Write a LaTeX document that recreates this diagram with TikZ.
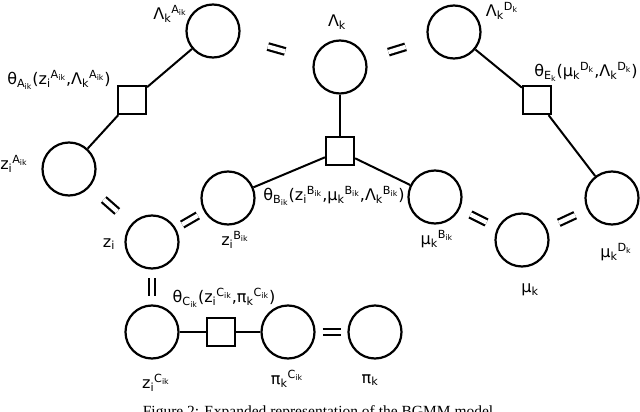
\documentclass[tikz,border=0pt]{standalone}
\usepackage{fontspec}
\setmainfont{DejaVu Sans}
\newfontfamily\capfont{Liberation Serif}
\usetikzlibrary{calc}
\newcommand\sbs[1]{\textsubscript{#1}}
\newcommand\sps[1]{\textsuperscript{#1}}
\newcommand\eqsign[2]{\coordinate (m) at ($(#1)!0.5!(#2)$); \draw[eqbar] ($(m)!9pt!(#1)$) -- ($(m)!9pt!(#2)$);}
\begin{document}
\begin{tikzpicture}[x=1pt,y=-1pt,
  var/.style={circle,draw,line width=2.2pt,minimum size=53pt,inner sep=0pt},
  fac/.style={rectangle,draw,line width=2.2pt,minimum size=28pt,inner sep=0pt},
  edge/.style={line width=2pt},
  lab/.style={font=\fontsize{16}{19}\selectfont, inner sep=0pt},
  eqbar/.style={line width=2.2pt, double, double distance=4.4pt}]
\clip (0,0) rectangle (640,412);
\useasboundingbox (0,0) rectangle (640,412);
\node[var] (LA) at (213,31) {};
\node[var] (L) at (340,67) {};
\node[var] (LD) at (454,32) {};
\node[fac] (FA) at (132,100) {};
\node[fac] (FE) at (537,100) {};
\node[fac] (FB) at (340,151) {};
\node[fac] (FC) at (221,332) {};
\node[var] (ZA) at (69,169) {};
\node[var] (Z) at (152,242) {};
\node[var] (ZB) at (228,198) {};
\node[var] (MB) at (435,197) {};
\node[var] (M) at (522,240) {};
\node[var] (MD) at (612,198) {};
\node[var] (ZC) at (152,332) {};
\node[var] (PC) at (288,332) {};
\node[var] (P) at (375,332) {};
\draw[edge] (LA) -- (FA);
\draw[edge] (FA) -- (ZA);
\draw[edge] (L) -- (FB);
\draw[edge] (FB) -- (ZB);
\draw[edge] (FB) -- (MB);
\draw[edge] (LD) -- (FE);
\draw[edge] (FE) -- (MD);
\draw[edge] (ZC) -- (FC);
\draw[edge] (FC) -- (PC);
\eqsign{LA}{L}
\eqsign{L}{LD}
\eqsign{ZA}{Z}
\eqsign{Z}{ZB}
\eqsign{MB}{M}
\eqsign{M}{MD}
\eqsign{Z}{ZC}
\eqsign{PC}{P}
\node[lab] (tLA) at (170,14) {Λ\sbs{k}\sps{A\sbs{ik}}};
\node[lab] (tFA) at (59,80) {θ\sbs{A\sbs{ik}}(z\sbs{i}\sps{A\sbs{ik}},Λ\sbs{k}\sps{A\sbs{ik}})};
\node[lab] (tL) at (337,22) {Λ\sbs{k}};
\node[lab] (tLD) at (502,11) {Λ\sbs{k}\sps{D\sbs{k}}};
\node[lab] (tFE) at (586,72) {θ\sbs{E\sbs{k}}(μ\sbs{k}\sps{D\sbs{k}},Λ\sbs{k}\sps{D\sbs{k}})};
\node[lab] (tZA) at (14,164) {z\sbs{i}\sps{A\sbs{ik}}};
\node[lab] (tFB) at (334,196) {θ\sbs{B\sbs{ik}}(z\sbs{i}\sps{B\sbs{ik}},μ\sbs{k}\sps{B\sbs{ik}},Λ\sbs{k}\sps{B\sbs{ik}})};
\node[lab] (tZB) at (235,240) {z\sbs{i}\sps{B\sbs{ik}}};
\node[lab] (tZ) at (109,244) {z\sbs{i}};
\node[lab] (tMB) at (437,239) {μ\sbs{k}\sps{B\sbs{ik}}};
\node[lab] (tMD) at (616,252) {μ\sbs{k}\sps{D\sbs{k}}};
\node[lab] (tM) at (530,290) {μ\sbs{k}};
\node[lab] (tFC) at (224,298) {θ\sbs{C\sbs{ik}}(z\sbs{i}\sps{C\sbs{ik}},π\sbs{k}\sps{C\sbs{ik}})};
\node[lab] (tZC) at (156,383) {z\sbs{i}\sps{C\sbs{ik}}};
\node[lab] (tPC) at (287,379) {π\sbs{k}\sps{C\sbs{ik}}};
\node[lab] (tP) at (370,380) {π\sbs{k}};
\node[font=\capfont\fontsize{15.5}{18}\selectfont, anchor=base, inner sep=0pt] (cap) at (320,416) {Figure 2: Expanded representation of the BGMM model.};
\end{tikzpicture}
\end{document}
